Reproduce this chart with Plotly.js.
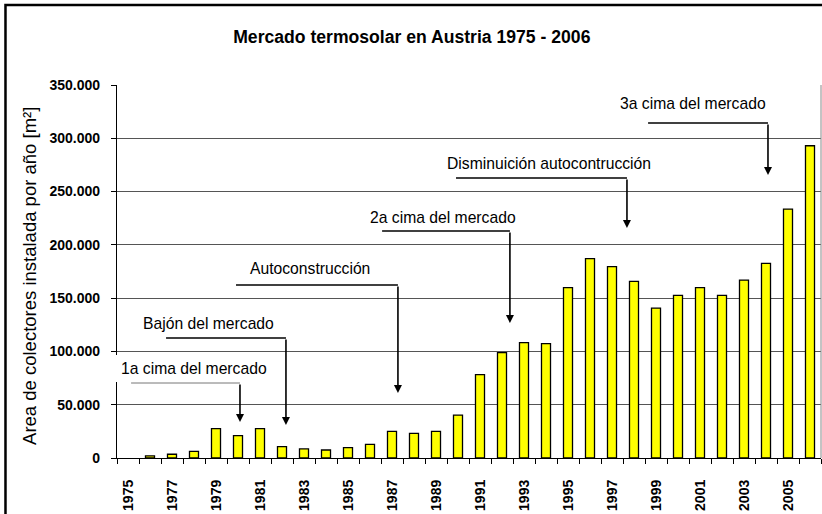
<!DOCTYPE html>
<html>
<head>
<meta charset="utf-8">
<script src="https://cdn.plot.ly/plotly-3.0.1.min.js"></script>
<style>html,body{margin:0;padding:0;background:#fff;}#chart{width:822px;height:514px;}</style>
</head>
<body>
<div id="chart"></div>
<script>
// Data
var years = [1975,1976,1977,1978,1979,1980,1981,1982,1983,1984,1985,1986,1987,1988,1989,1990,
             1991,1992,1993,1994,1995,1996,1997,1998,1999,2000,2001,2002,2003,2004,2005,2006];
var area  = [null,2000,3500,6300,27500,21000,27500,10600,8500,7500,9700,12800,25000,23200,25000,40300,
             78200,98800,108200,107300,159800,187000,179500,165800,140700,152600,159800,152600,167000,182700,233600,293000];
var tickYears = [1975,1977,1979,1981,1983,1985,1987,1989,1991,1993,1995,1997,1999,2001,2003,2005];
var yTicks = [0,50000,100000,150000,200000,250000,300000,350000];
var yTickText = ["0","50.000","100.000","150.000","200.000","250.000","300.000","350.000"];

// Callouts (text, text position, elbow line, arrow tip) in data coordinates
var calloutText = ["1a cima del mercado","Bajón del mercado","Autoconstrucción","2a cima del mercado","Disminuición autocontrucción","3a cima del mercado"];
var calloutTextX = [1974.5,1975.68,1980.55,1986.0,1989.5,1997.36];
var calloutTextY = [84450,126675,178285,226140,276810,333110];
var calloutLineY = [70375,112600,162330,213000,262735,314345];
var calloutLineX0 = [1975.14,1976.73,1979.91,1986.55,1989.91,1998.64];
var calloutLineX1 = [1980.09,1982.18,1987.27,1992.36,1997.68,2004.09];
var calloutTipY = [33780,30965,60990,126675,215820,265550];

var FONT = "Liberation Sans, Arial, sans-serif";

var trace = {
  type: "bar",
  x: years,
  y: area,
  marker: {color: "#FFFF00", line: {color: "#000000", width: 1.3}},
  hoverinfo: "x+y"
};

var shapes = [];
var annotations = [];
for (var i = 0; i < calloutText.length; i++) {
  shapes.push({
    type: "line", xref: "x", yref: "y",
    x0: calloutLineX0[i], x1: calloutLineX1[i], y0: calloutLineY[i], y1: calloutLineY[i],
    line: {color: i === 0 ? "#777777" : "#000000", width: i === 0 ? 1 : 1.6}
  });
  annotations.push({
    xref: "x", yref: "y", axref: "x", ayref: "y",
    x: calloutLineX1[i], y: calloutTipY[i], ax: calloutLineX1[i], ay: calloutLineY[i],
    text: "", showarrow: true, arrowhead: 2, arrowsize: 1, arrowwidth: 1.6, arrowcolor: "#000000"
  });
  annotations.push({
    xref: "x", yref: "y",
    x: calloutTextX[i], y: calloutTextY[i], xanchor: "left", yanchor: "middle",
    xshift: i === 0 ? -1 : 0,
    text: calloutText[i], showarrow: false,
    font: {family: FONT, size: 15.7, color: "#000000"},
    bgcolor: i === 0 ? "#FFFFFF" : "rgba(0,0,0,0)",
    borderpad: i === 0 ? 5 : 0, borderwidth: 0
  });
}

// y-axis title
annotations.push({
  xref: "paper", yref: "paper", x: -0.1236, y: 0.488, xanchor: "center", yanchor: "middle",
  text: "Area de colectores instalada por año [m²]", textangle: -90, showarrow: false,
  font: {family: FONT, size: 18.5, color: "#000000"}
});

// right plot border and outer frame
shapes.push({type: "line", xref: "paper", yref: "paper", x0: 1, x1: 1, y0: 0, y1: 1,
  line: {color: "#888888", width: 1}});
shapes.push({type: "rect", xref: "paper", yref: "paper", x0: -0.1584, x1: 1.2, y0: -0.5, y1: 1.2145,
  line: {color: "#000000", width: 2.5}, fillcolor: "rgba(0,0,0,0)"});

var layout = {
  width: 822, height: 514,
  margin: {l: 117, r: 1, t: 85, b: 56, pad: 0},
  paper_bgcolor: "#FFFFFF", plot_bgcolor: "#FFFFFF",
  showlegend: false,
  bargap: 0.59,
  title: {
    text: "<b>Mercado termosolar en Austria 1975 - 2006</b>",
    x: 0.501, xanchor: "center", y: 0.928, yanchor: "middle",
    font: {family: FONT, size: 17.6, color: "#000000"}
  },
  xaxis: {
    range: [1974.5, 2006.5],
    tickmode: "array", tickvals: tickYears, ticktext: tickYears.map(function(y){return "<b>" + y + "</b>";}),
    tickangle: -90, ticks: "", ticklabelstandoff: 15,
    tickfont: {family: FONT, size: 14, color: "#000000"},
    showgrid: false, zeroline: false,
    showline: true, linecolor: "#000000", linewidth: 1.2,
    minor: {tickmode: "linear", tick0: 1974.5, dtick: 1, ticks: "outside", ticklen: 5, tickwidth: 1, tickcolor: "#000000", showgrid: false}
  },
  yaxis: {
    range: [0, 350000],
    tickmode: "array", tickvals: yTicks, ticktext: yTickText.map(function(t){return "<b>" + t + "</b>";}),
    ticks: "outside", ticklen: 5, tickwidth: 1, tickcolor: "#000000", ticklabelstandoff: 8,
    tickfont: {family: FONT, size: 14, color: "#000000"},
    showgrid: true, gridcolor: "#555555", gridwidth: 1,
    zeroline: false,
    showline: true, linecolor: "#000000", linewidth: 1.2
  },
  shapes: shapes,
  annotations: annotations
};

Plotly.newPlot("chart", [trace], layout, {displayModeBar: false, staticPlot: true});
</script>
</body>
</html>
